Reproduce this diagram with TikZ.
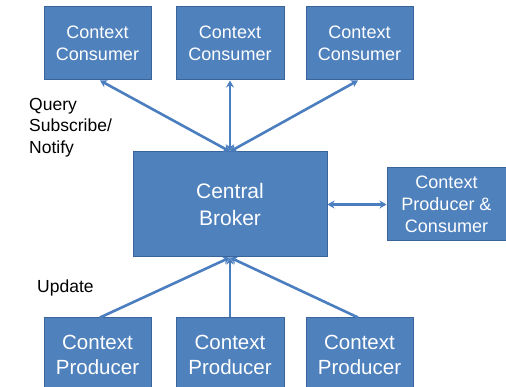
\documentclass[tikz,border=0pt]{standalone}
\usepackage{fontspec}
\setmainfont{Liberation Sans}
\usetikzlibrary{arrows.meta}
\definecolor{boxfill}{HTML}{4F81BD}
\definecolor{boxline}{HTML}{3A659A}
\definecolor{linkblue}{HTML}{4A7EBF}
\tikzset{
  x=1pt, y=-1pt,
  box/.style={draw=boxline, line width=1pt, fill=boxfill, text=white,
    align=center, inner sep=0pt},
  smallbox/.style={box, minimum width=107pt, minimum height=73pt,
    font=\fontsize{18}{22}\selectfont},
  prodbox/.style={box, minimum width=107pt, minimum height=73pt,
    font=\fontsize{20.5}{25}\selectfont},
  link/.style={draw=linkblue, line width=2.6pt,
    {Stealth[length=7pt,width=8pt]}-{Stealth[length=7pt,width=8pt]}},
  uplink/.style={draw=linkblue, line width=2.6pt,
    -{Stealth[length=7pt,width=8pt]}},
  lbl/.style={align=left, inner sep=0pt, text=black,
    font=\fontsize{17.5}{21.5}\selectfont}
}
\begin{document}
\begin{tikzpicture}
\useasboundingbox (0,0) rectangle (506,387);
\clip (0,0) rectangle (506,387);

% consumers along the top
\node[smallbox] (c1) at (97.5,43.5) {Context\\Consumer};
\node[smallbox, minimum width=108pt] (c2) at (230,43.5) {Context\\Consumer};
\node[smallbox] (c3) at (359.5,43.5) {Context\\Consumer};

% the broker in the middle
\node[box, minimum width=194pt, minimum height=105pt,
  font=\fontsize{21}{27}\selectfont] (broker) at (230,204.5) {Central\\Broker};

% combined producer/consumer on the right
\node[smallbox, minimum width=119pt] (pc) at (446.5,204.5)
  {Context\\Producer \&\\Consumer};

% producers along the bottom
\node[prodbox] (p1) at (97.5,354.5) {Context\\Producer};
\node[prodbox, minimum width=108pt] (p2) at (230,354.5) {Context\\Producer};
\node[prodbox] (p3) at (359.5,354.5) {Context\\Producer};

% labels
\node[lbl, anchor=north west] (qlbl) at (29,98) {Query\\Subscribe/\\Notify};
\node[lbl, anchor=north west] (ulbl) at (37,280) {Update};

% query / subscribe / notify links
\coordinate (bt) at (broker.north);
\draw[link] (bt) -- (c1.south -| 100,0);
\draw[link] (bt) -- (c2.south);
\draw[link] (bt) -- (c3.south -| 358,0);

% update links
\coordinate (bb) at (broker.south);
\draw[uplink] (p1.north -| 100,0) -- (bb);
\draw[uplink] (p2.north) -- (bb);
\draw[uplink] (p3.north -| 358,0) -- (bb);

% broker <-> producer & consumer
\draw[link] (broker.east) -- (pc.west);
\end{tikzpicture}
\end{document}
